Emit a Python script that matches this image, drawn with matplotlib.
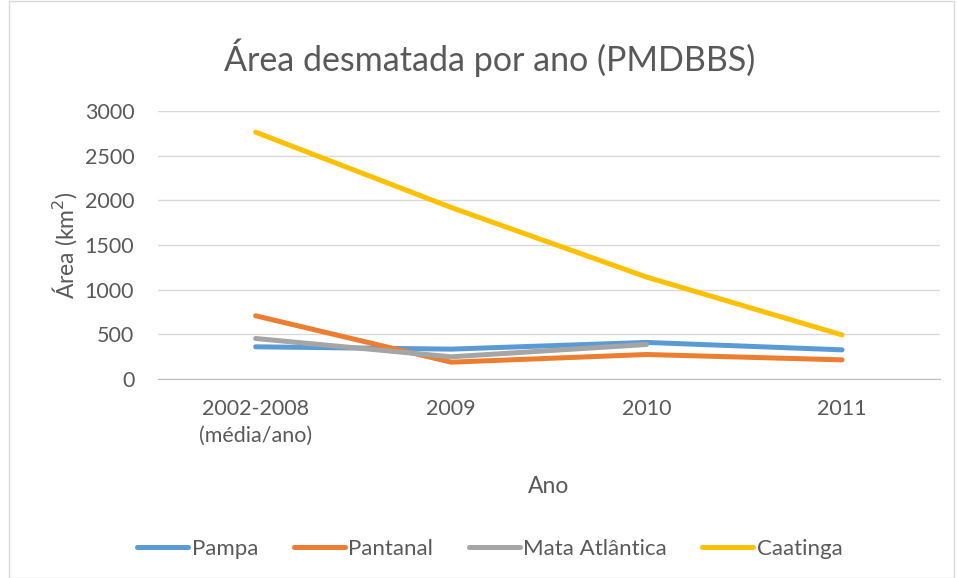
import numpy as np
import matplotlib.pyplot as plt
from matplotlib.patches import Rectangle

# desmatamento anual por bioma (km2)
anos = ['2002-2008\n(média/ano)', '2009', '2010', '2011']
pampa = [362, 336, 411, 328]
pantanal = [709, 190, 276, 216]
mata_atlantica = [455, 250, 388]
caatinga = [2763, 1921, 1142, 495]

cinza = '#595959'
plt.rcParams['font.family'] = ['Lato', 'DejaVu Sans']

fig = plt.figure(figsize=(9.57, 5.78), dpi=100)
fig.patches.append(Rectangle((0.009, 0.0), 0.988, 0.998, transform=fig.transFigure,
                             fill=False, edgecolor='#d9d9d9', linewidth=1))
ax = fig.add_axes([0.165, 0.344, 0.817, 0.464])

x = np.arange(len(anos))
series = [('Pampa', pampa, '#5B9BD5'),
          ('Pantanal', pantanal, '#ED7D31'),
          ('Mata Atlântica', mata_atlantica, '#A5A5A5'),
          ('Caatinga', caatinga, '#FFC000')]
for nome, vals, cor in series:
    ax.plot(x[:len(vals)], vals, color=cor, linewidth=3.6,
            solid_capstyle='round', solid_joinstyle='round', label=nome)

ax.set_xlim(-0.5, 3.5)
ax.set_ylim(0, 3000)
ax.set_yticks(np.arange(0, 3001, 500))
ax.set_xticks(x)
ax.set_xticklabels(anos, linespacing=1.45)
ax.grid(axis='y', color='#d9d9d9', linewidth=1)
ax.set_axisbelow(True)
for s in ['top', 'right', 'left']:
    ax.spines[s].set_visible(False)
ax.spines['bottom'].set_color('#bfbfbf')
ax.tick_params(axis='both', length=0, labelsize=15.5, labelcolor=cinza)
ax.tick_params(axis='y', pad=17)
ax.tick_params(axis='x', pad=14)

fig.suptitle('Área desmatada por ano (PMDBBS)', x=0.512, y=0.90, va='center',
             fontsize=24.5, color=cinza)
ax.set_ylabel('Área (km$^2$)', fontsize=16.5, color=cinza, labelpad=4)
ax.set_xlabel('Ano', fontsize=16.5, color=cinza, labelpad=22)

fig.legend(loc='center', bbox_to_anchor=(0.512, 0.05), ncol=4, frameon=False,
           fontsize=16, labelcolor=cinza, handlelength=2.3, handletextpad=0.15,
           columnspacing=1.6)

fig.savefig('out.png', dpi=100)
